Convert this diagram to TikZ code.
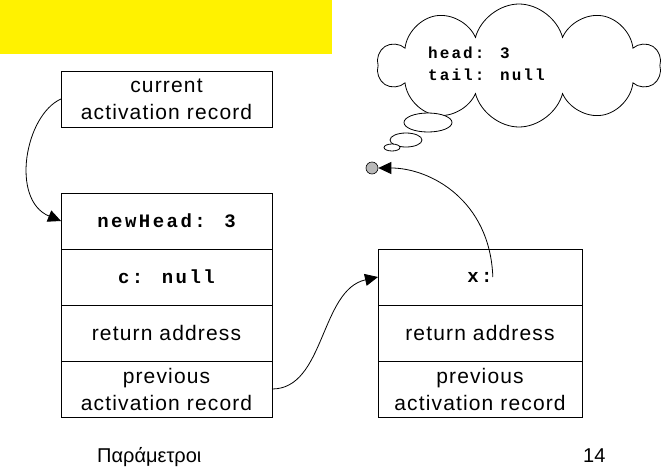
\documentclass[tikz,border=0pt]{standalone}
\usepackage{fontspec}
\setmainfont{Liberation Sans}
\setmonofont{Liberation Mono}
\newfontfamily\boxfont{Liberation Sans}[LetterSpace=5.5]
\newfontfamily\codefont{Liberation Mono}[LetterSpace=13]
\usetikzlibrary{positioning,shapes.symbols,shapes.geometric,arrows.meta}
\tikzset{
  frame/.style={rectangle, draw, line width=1pt, outer sep=0pt, inner sep=0pt, minimum width=211pt, minimum height=56pt, align=center, font=\boxfont\fontsize{21}{27}\selectfont},
  slot/.style={frame, font=\codefont\bfseries\fontsize{19}{22}\selectfont},
  puff/.style={ellipse, draw, fill=white, line width=0.8pt, inner sep=0pt},
  pointsTo/.style={-{Triangle[length=13pt,width=12pt]}, line width=0.8pt}
}

\begin{document}
\begin{tikzpicture}[x=1pt, y=-1pt]
      \useasboundingbox (0,0) rectangle (665,469);
      \fill[yellow] (0,0) rectangle (332,54);

      % current record
      \node[frame] (current) at (166.5,99) {current\\activation record};

      % caller frame
      \node[slot] (newhead) at (166.5,221) {newHead: 3};
      \node[slot, below=0pt of newhead] (cval) {c: null};
      \node[frame, below=0pt of cval] (retL) {return address};
      \node[frame, below=0pt of retL] (prevL) {previous\\activation record};

      % callee frame
      \node[slot, minimum width=204pt] (xcell) at (480,277) {};
      \node[font=\codefont\bfseries\fontsize{19}{22}\selectfont, inner sep=0pt] (xlabel) at (xcell) {x:};
      \node[frame, minimum width=204pt, below=0pt of xcell] (retR) {return address};
      \node[frame, minimum width=204pt, below=0pt of retR] (prevR) {previous\\activation record};

      % heap object
      \node[cloud, cloud puffs=10, cloud ignores aspect, draw, line width=0.8pt, minimum width=282pt, minimum height=123pt] (heap) at (519,65.5) {};
      \node[font=\codefont\bfseries\fontsize{16}{22}\selectfont, align=left, anchor=west, inner sep=0pt] (fields) at (428,64) {head: 3\\tail: null};
      \node[puff, minimum width=48pt, minimum height=19pt] (puffA) at (428,122.5) {};
      \node[puff, minimum width=32pt, minimum height=14pt] (puffB) at (406,140) {};
      \node[puff, minimum width=16pt, minimum height=7pt] (puffC) at (392,147.5) {};
      \node[circle, draw, fill=gray!55, line width=0.6pt, minimum size=12pt, inner sep=0pt] (nullref) at (372,168) {};

      \draw[pointsTo] (current.west) .. controls (25,115) and (10,200) .. (newhead.west);
      \draw[pointsTo] (prevL.east) .. controls (325,389) and (320,290) .. (xcell.west);
      \draw[pointsTo] (xlabel.east) .. controls (490,200) and (430,168) .. (nullref.east);

      \node[anchor=base west, inner sep=0pt, font=\fontsize{20}{24}\selectfont] (title) at (97,462) {Παράμετροι};
      \node[anchor=base west, inner sep=0pt, font=\fontsize{20}{24}\selectfont] (page) at (583,462) {14};
\end{tikzpicture}
\end{document}
